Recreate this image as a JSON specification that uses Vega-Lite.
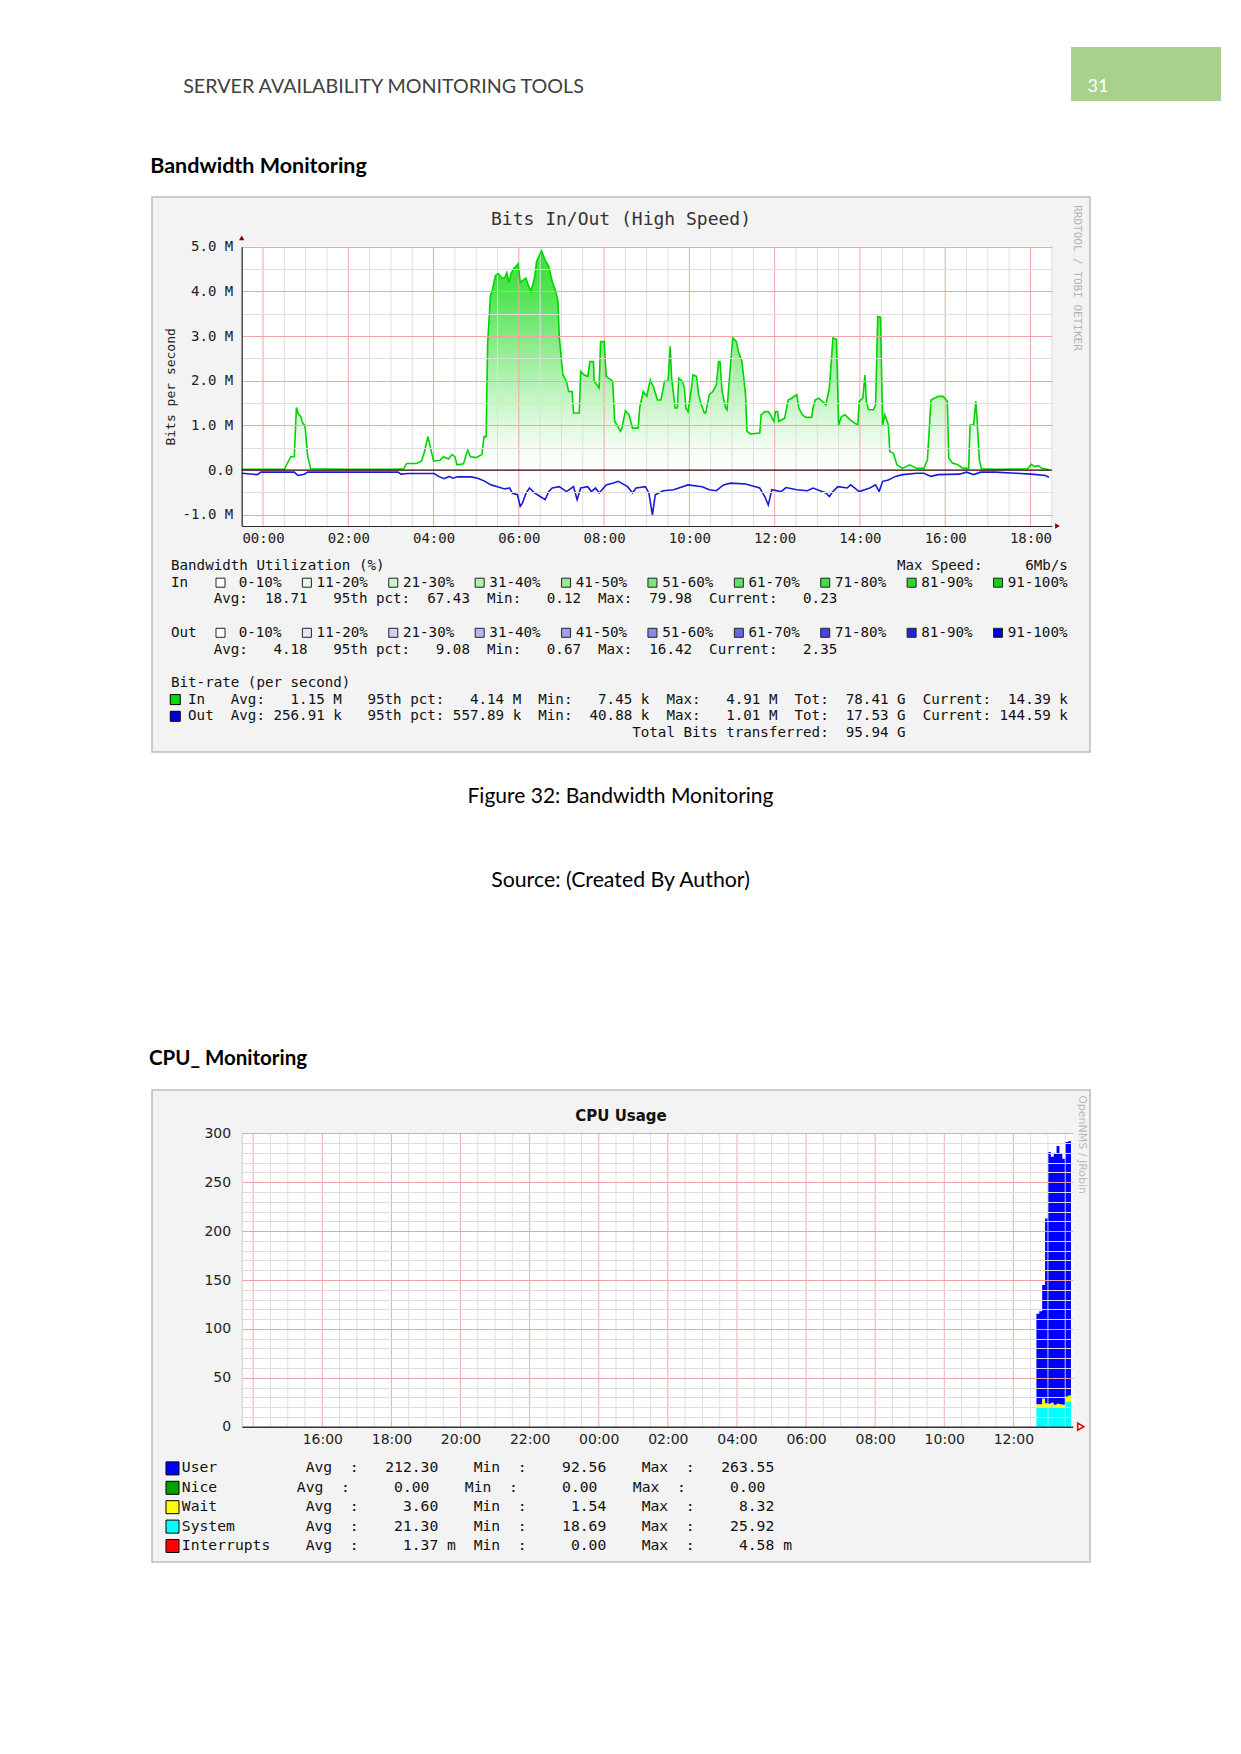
{
"$schema": "https://vega.github.io/schema/vega-lite/v6.json",
"background": "white",
"padding": 0,
"spacing": 0,
"config": {"view": {"stroke": null}, "concat": {"spacing": 0}},
"datasets": {
"bw_in": [
{"hour":-0.5,"in_mbps":0.02},{"hour":0,"in_mbps":0.02},{"hour":0.5,"in_mbps":0.02},{"hour":0.65,"in_mbps":0.3},{"hour":0.733,"in_mbps":0.3},{"hour":0.783,"in_mbps":1.4},{"hour":0.833,"in_mbps":1.25},{"hour":0.883,"in_mbps":1.2},{"hour":0.933,"in_mbps":1.05},{"hour":0.983,"in_mbps":1.0},{"hour":1.05,"in_mbps":0.3},{"hour":1.117,"in_mbps":0.03},{"hour":2,"in_mbps":0.02},{"hour":3,"in_mbps":0.02},{"hour":3.3,"in_mbps":0.03},{"hour":3.367,"in_mbps":0.15},{"hour":3.6,"in_mbps":0.15},{"hour":3.717,"in_mbps":0.2},{"hour":3.783,"in_mbps":0.4},{"hour":3.867,"in_mbps":0.75},{"hour":3.917,"in_mbps":0.55},{"hour":4,"in_mbps":0.2},{"hour":4.15,"in_mbps":0.22},{"hour":4.233,"in_mbps":0.3},{"hour":4.35,"in_mbps":0.25},{"hour":4.433,"in_mbps":0.35},{"hour":4.5,"in_mbps":0.3},{"hour":4.55,"in_mbps":0.12},{"hour":4.7,"in_mbps":0.14},{"hour":4.8,"in_mbps":0.45},{"hour":4.867,"in_mbps":0.3},{"hour":5,"in_mbps":0.28},{"hour":5.133,"in_mbps":0.35},{"hour":5.183,"in_mbps":0.75},{"hour":5.233,"in_mbps":0.75},{"hour":5.267,"in_mbps":2.8},{"hour":5.333,"in_mbps":3.9},{"hour":5.383,"in_mbps":4.05},{"hour":5.45,"in_mbps":4.35},{"hour":5.517,"in_mbps":4.4},{"hour":5.6,"in_mbps":4.3},{"hour":5.667,"in_mbps":4.3},{"hour":5.717,"in_mbps":4.42},{"hour":5.767,"in_mbps":4.2},{"hour":5.817,"in_mbps":4.4},{"hour":5.883,"in_mbps":4.52},{"hour":5.95,"in_mbps":4.58},{"hour":5.983,"in_mbps":4.62},{"hour":6.033,"in_mbps":4.2},{"hour":6.1,"in_mbps":4.25},{"hour":6.167,"in_mbps":4.3},{"hour":6.217,"in_mbps":4.15},{"hour":6.283,"in_mbps":4.0},{"hour":6.367,"in_mbps":4.3},{"hour":6.417,"in_mbps":4.67},{"hour":6.533,"in_mbps":4.91},{"hour":6.617,"in_mbps":4.7},{"hour":6.7,"in_mbps":4.56},{"hour":6.783,"in_mbps":4.22},{"hour":6.867,"in_mbps":4.0},{"hour":6.917,"in_mbps":3.78},{"hour":6.95,"in_mbps":2.96},{"hour":7.033,"in_mbps":2.13},{"hour":7.117,"in_mbps":1.99},{"hour":7.167,"in_mbps":1.76},{"hour":7.25,"in_mbps":1.76},{"hour":7.283,"in_mbps":1.28},{"hour":7.417,"in_mbps":1.28},{"hour":7.45,"in_mbps":2.21},{"hour":7.533,"in_mbps":2.13},{"hour":7.617,"in_mbps":2.1},{"hour":7.667,"in_mbps":2.43},{"hour":7.75,"in_mbps":2.43},{"hour":7.767,"in_mbps":1.99},{"hour":7.883,"in_mbps":1.84},{"hour":7.917,"in_mbps":2.88},{"hour":8,"in_mbps":2.88},{"hour":8.05,"in_mbps":2.1},{"hour":8.2,"in_mbps":1.99},{"hour":8.25,"in_mbps":1.09},{"hour":8.383,"in_mbps":0.87},{"hour":8.417,"in_mbps":0.94},{"hour":8.5,"in_mbps":1.33},{"hour":8.583,"in_mbps":1.24},{"hour":8.667,"in_mbps":0.94},{"hour":8.8,"in_mbps":0.94},{"hour":8.833,"in_mbps":1.39},{"hour":8.917,"in_mbps":1.76},{"hour":9,"in_mbps":1.65},{"hour":9.083,"in_mbps":2.02},{"hour":9.167,"in_mbps":1.84},{"hour":9.25,"in_mbps":1.57},{"hour":9.333,"in_mbps":1.57},{"hour":9.417,"in_mbps":1.99},{"hour":9.5,"in_mbps":1.99},{"hour":9.55,"in_mbps":2.77},{"hour":9.583,"in_mbps":2.06},{"hour":9.667,"in_mbps":1.39},{"hour":9.717,"in_mbps":1.39},{"hour":9.75,"in_mbps":2.06},{"hour":9.833,"in_mbps":1.99},{"hour":9.883,"in_mbps":1.84},{"hour":9.917,"in_mbps":1.39},{"hour":9.967,"in_mbps":1.31},{"hour":10.05,"in_mbps":1.84},{"hour":10.083,"in_mbps":2.13},{"hour":10.167,"in_mbps":2.1},{"hour":10.217,"in_mbps":1.69},{"hour":10.283,"in_mbps":1.46},{"hour":10.35,"in_mbps":1.28},{"hour":10.383,"in_mbps":1.28},{"hour":10.467,"in_mbps":1.69},{"hour":10.55,"in_mbps":1.76},{"hour":10.633,"in_mbps":1.91},{"hour":10.683,"in_mbps":2.43},{"hour":10.717,"in_mbps":2.43},{"hour":10.767,"in_mbps":1.76},{"hour":10.85,"in_mbps":1.39},{"hour":10.883,"in_mbps":1.35},{"hour":10.933,"in_mbps":1.99},{"hour":11.017,"in_mbps":2.96},{"hour":11.1,"in_mbps":2.88},{"hour":11.15,"in_mbps":2.66},{"hour":11.233,"in_mbps":2.43},{"hour":11.317,"in_mbps":1.69},{"hour":11.35,"in_mbps":0.87},{"hour":11.433,"in_mbps":0.81},{"hour":11.65,"in_mbps":0.83},{"hour":11.683,"in_mbps":1.24},{"hour":11.767,"in_mbps":1.31},{"hour":11.85,"in_mbps":1.31},{"hour":11.9,"in_mbps":1.24},{"hour":11.983,"in_mbps":1.09},{"hour":12.017,"in_mbps":1.31},{"hour":12.067,"in_mbps":1.31},{"hour":12.1,"in_mbps":1.09},{"hour":12.233,"in_mbps":1.16},{"hour":12.317,"in_mbps":1.57},{"hour":12.4,"in_mbps":1.61},{"hour":12.517,"in_mbps":1.69},{"hour":12.567,"in_mbps":1.39},{"hour":12.65,"in_mbps":1.24},{"hour":12.733,"in_mbps":1.18},{"hour":12.867,"in_mbps":1.18},{"hour":12.9,"in_mbps":1.39},{"hour":12.95,"in_mbps":1.57},{"hour":13.033,"in_mbps":1.61},{"hour":13.117,"in_mbps":1.54},{"hour":13.2,"in_mbps":1.46},{"hour":13.283,"in_mbps":1.84},{"hour":13.367,"in_mbps":2.96},{"hour":13.45,"in_mbps":2.93},{"hour":13.5,"in_mbps":1.01},{"hour":13.567,"in_mbps":1.2},{"hour":13.65,"in_mbps":1.24},{"hour":13.733,"in_mbps":1.16},{"hour":13.817,"in_mbps":1.09},{"hour":13.95,"in_mbps":1.01},{"hour":13.983,"in_mbps":1.54},{"hour":14.067,"in_mbps":1.61},{"hour":14.117,"in_mbps":2.13},{"hour":14.15,"in_mbps":1.54},{"hour":14.2,"in_mbps":1.35},{"hour":14.317,"in_mbps":1.35},{"hour":14.367,"in_mbps":1.46},{"hour":14.417,"in_mbps":3.44},{"hour":14.483,"in_mbps":3.42},{"hour":14.533,"in_mbps":1.01},{"hour":14.583,"in_mbps":1.24},{"hour":14.667,"in_mbps":1.01},{"hour":14.7,"in_mbps":0.42},{"hour":14.783,"in_mbps":0.38},{"hour":14.867,"in_mbps":0.12},{"hour":15,"in_mbps":0.04},{"hour":15.167,"in_mbps":0.12},{"hour":15.333,"in_mbps":0.04},{"hour":15.5,"in_mbps":0.04},{"hour":15.583,"in_mbps":0.23},{"hour":15.667,"in_mbps":1.57},{"hour":15.833,"in_mbps":1.65},{"hour":15.95,"in_mbps":1.65},{"hour":16.05,"in_mbps":1.54},{"hour":16.083,"in_mbps":0.27},{"hour":16.167,"in_mbps":0.16},{"hour":16.3,"in_mbps":0.12},{"hour":16.417,"in_mbps":0.04},{"hour":16.55,"in_mbps":0.04},{"hour":16.583,"in_mbps":1.01},{"hour":16.667,"in_mbps":1.01},{"hour":16.717,"in_mbps":1.54},{"hour":16.75,"in_mbps":1.09},{"hour":16.8,"in_mbps":0.23},{"hour":16.85,"in_mbps":0.03},{"hour":17.167,"in_mbps":0.02},{"hour":17.933,"in_mbps":0.03},{"hour":18.017,"in_mbps":0.13},{"hour":18.1,"in_mbps":0.08},{"hour":18.183,"in_mbps":0.1},{"hour":18.267,"in_mbps":0.04},{"hour":18.433,"in_mbps":0.01}
],
"bw_out": [
{"hour":-0.5,"out_mbps":-0.07},{"hour":-0.133,"out_mbps":-0.1},{"hour":-0.05,"out_mbps":-0.045},{"hour":0.733,"out_mbps":-0.045},{"hour":0.817,"out_mbps":-0.12},{"hour":0.967,"out_mbps":-0.09},{"hour":1.05,"out_mbps":-0.045},{"hour":3.167,"out_mbps":-0.045},{"hour":3.233,"out_mbps":-0.09},{"hour":3.4,"out_mbps":-0.075},{"hour":4.017,"out_mbps":-0.075},{"hour":4.117,"out_mbps":-0.14},{"hour":4.25,"out_mbps":-0.19},{"hour":4.367,"out_mbps":-0.14},{"hour":4.45,"out_mbps":-0.18},{"hour":4.567,"out_mbps":-0.15},{"hour":4.883,"out_mbps":-0.15},{"hour":5.033,"out_mbps":-0.18},{"hour":5.183,"out_mbps":-0.24},{"hour":5.35,"out_mbps":-0.33},{"hour":5.5,"out_mbps":-0.37},{"hour":5.667,"out_mbps":-0.42},{"hour":5.783,"out_mbps":-0.4},{"hour":5.85,"out_mbps":-0.52},{"hour":5.967,"out_mbps":-0.55},{"hour":6.033,"out_mbps":-0.81},{"hour":6.083,"out_mbps":-0.74},{"hour":6.167,"out_mbps":-0.52},{"hour":6.25,"out_mbps":-0.4},{"hour":6.367,"out_mbps":-0.51},{"hour":6.5,"out_mbps":-0.59},{"hour":6.617,"out_mbps":-0.66},{"hour":6.7,"out_mbps":-0.48},{"hour":6.783,"out_mbps":-0.4},{"hour":6.95,"out_mbps":-0.37},{"hour":7.117,"out_mbps":-0.48},{"hour":7.283,"out_mbps":-0.37},{"hour":7.367,"out_mbps":-0.66},{"hour":7.45,"out_mbps":-0.4},{"hour":7.617,"out_mbps":-0.37},{"hour":7.7,"out_mbps":-0.48},{"hour":7.8,"out_mbps":-0.4},{"hour":7.883,"out_mbps":-0.51},{"hour":8.05,"out_mbps":-0.33},{"hour":8.217,"out_mbps":-0.29},{"hour":8.333,"out_mbps":-0.25},{"hour":8.55,"out_mbps":-0.37},{"hour":8.667,"out_mbps":-0.51},{"hour":8.75,"out_mbps":-0.4},{"hour":8.967,"out_mbps":-0.37},{"hour":9.05,"out_mbps":-0.51},{"hour":9.133,"out_mbps":-1.0},{"hour":9.2,"out_mbps":-0.55},{"hour":9.383,"out_mbps":-0.46},{"hour":9.633,"out_mbps":-0.44},{"hour":9.967,"out_mbps":-0.33},{"hour":10.3,"out_mbps":-0.37},{"hour":10.467,"out_mbps":-0.44},{"hour":10.633,"out_mbps":-0.46},{"hour":10.8,"out_mbps":-0.33},{"hour":10.967,"out_mbps":-0.29},{"hour":11.317,"out_mbps":-0.31},{"hour":11.65,"out_mbps":-0.4},{"hour":11.767,"out_mbps":-0.59},{"hour":11.85,"out_mbps":-0.78},{"hour":11.933,"out_mbps":-0.44},{"hour":12.15,"out_mbps":-0.48},{"hour":12.267,"out_mbps":-0.39},{"hour":12.517,"out_mbps":-0.44},{"hour":12.767,"out_mbps":-0.46},{"hour":12.9,"out_mbps":-0.4},{"hour":13.2,"out_mbps":-0.51},{"hour":13.283,"out_mbps":-0.59},{"hour":13.367,"out_mbps":-0.48},{"hour":13.483,"out_mbps":-0.37},{"hour":13.7,"out_mbps":-0.4},{"hour":13.783,"out_mbps":-0.33},{"hour":13.983,"out_mbps":-0.48},{"hour":14.233,"out_mbps":-0.4},{"hour":14.367,"out_mbps":-0.33},{"hour":14.45,"out_mbps":-0.48},{"hour":14.533,"out_mbps":-0.25},{"hour":14.667,"out_mbps":-0.22},{"hour":14.833,"out_mbps":-0.14},{"hour":15,"out_mbps":-0.1},{"hour":15.333,"out_mbps":-0.07},{"hour":15.5,"out_mbps":-0.07},{"hour":15.667,"out_mbps":-0.14},{"hour":15.833,"out_mbps":-0.1},{"hour":16.333,"out_mbps":-0.09},{"hour":16.5,"out_mbps":-0.045},{"hour":16.667,"out_mbps":-0.1},{"hour":16.833,"out_mbps":-0.045},{"hour":17.167,"out_mbps":-0.045},{"hour":17.667,"out_mbps":-0.07},{"hour":18.017,"out_mbps":-0.09},{"hour":18.35,"out_mbps":-0.12},{"hour":18.433,"out_mbps":-0.16}
],
"c1_vgrid": [
{"hour":-0.5},{"hour":0},{"hour":0.5},{"hour":1},{"hour":1.5},{"hour":2},{"hour":2.5},{"hour":3},{"hour":3.5},{"hour":4},{"hour":4.5},{"hour":5},{"hour":5.5},{"hour":6},{"hour":6.5},{"hour":7},{"hour":7.5},{"hour":8},{"hour":8.5},{"hour":9},{"hour":9.5},{"hour":10},{"hour":10.5},{"hour":11},{"hour":11.5},{"hour":12},{"hour":12.5},{"hour":13},{"hour":13.5},{"hour":14},{"hour":14.5},{"hour":15},{"hour":15.5},{"hour":16},{"hour":16.5},{"hour":17},{"hour":17.5},{"hour":18},{"hour":18.5}
],
"c2_vgrid": [
{"hour":14},{"hour":14.5},{"hour":15},{"hour":15.5},{"hour":16},{"hour":16.5},{"hour":17},{"hour":17.5},{"hour":18},{"hour":18.5},{"hour":19},{"hour":19.5},{"hour":20},{"hour":20.5},{"hour":21},{"hour":21.5},{"hour":22},{"hour":22.5},{"hour":23},{"hour":23.5},{"hour":24},{"hour":24.5},{"hour":25},{"hour":25.5},{"hour":26},{"hour":26.5},{"hour":27},{"hour":27.5},{"hour":28},{"hour":28.5},{"hour":29},{"hour":29.5},{"hour":30},{"hour":30.5},{"hour":31},{"hour":31.5},{"hour":32},{"hour":32.5},{"hour":33},{"hour":33.5},{"hour":34},{"hour":34.5},{"hour":35},{"hour":35.5},{"hour":36},{"hour":36.5},{"hour":37},{"hour":37.5}
],
"bw_legend": [
{"line":"util","text":"Bandwidth\u00a0Utilization\u00a0(%)\u00a0\u00a0\u00a0\u00a0\u00a0\u00a0\u00a0\u00a0\u00a0\u00a0\u00a0\u00a0\u00a0\u00a0\u00a0\u00a0\u00a0\u00a0\u00a0\u00a0\u00a0\u00a0\u00a0\u00a0\u00a0\u00a0\u00a0\u00a0\u00a0\u00a0\u00a0\u00a0\u00a0\u00a0\u00a0\u00a0\u00a0\u00a0\u00a0\u00a0\u00a0\u00a0\u00a0\u00a0\u00a0\u00a0\u00a0\u00a0\u00a0\u00a0\u00a0\u00a0\u00a0\u00a0\u00a0\u00a0\u00a0\u00a0\u00a0\u00a0Max\u00a0Speed:\u00a0\u00a0\u00a0\u00a0\u00a06Mb/s"},
{"line":"in_bands","text":"In"},
{"line":"in_stats","text":"\u200b\u00a0\u00a0\u00a0\u00a0\u00a0Avg:\u00a0\u00a018.71\u00a0\u00a0\u00a095th\u00a0pct:\u00a0\u00a067.43\u00a0\u00a0Min:\u00a0\u00a0\u00a00.12\u00a0\u00a0Max:\u00a0\u00a079.98\u00a0\u00a0Current:\u00a0\u00a0\u00a00.23"},
{"line":"out_bands","text":"Out"},
{"line":"out_stats","text":"\u200b\u00a0\u00a0\u00a0\u00a0\u00a0Avg:\u00a0\u00a0\u00a04.18\u00a0\u00a0\u00a095th\u00a0pct:\u00a0\u00a0\u00a09.08\u00a0\u00a0Min:\u00a0\u00a0\u00a00.67\u00a0\u00a0Max:\u00a0\u00a016.42\u00a0\u00a0Current:\u00a0\u00a0\u00a02.35"},
{"line":"rate","text":"Bit-rate\u00a0(per\u00a0second)"},
{"line":"rate_in","text":"\u200b\u00a0\u00a0In\u00a0\u00a0\u00a0Avg:\u00a0\u00a0\u00a01.15\u00a0M\u00a0\u00a0\u00a095th\u00a0pct:\u00a0\u00a0\u00a04.14\u00a0M\u00a0\u00a0Min:\u00a0\u00a0\u00a07.45\u00a0k\u00a0\u00a0Max:\u00a0\u00a0\u00a04.91\u00a0M\u00a0\u00a0Tot:\u00a0\u00a078.41\u00a0G\u00a0\u00a0Current:\u00a0\u00a014.39\u00a0k"},
{"line":"rate_out","text":"\u200b\u00a0\u00a0Out\u00a0\u00a0Avg:\u00a0256.91\u00a0k\u00a0\u00a0\u00a095th\u00a0pct:\u00a0557.89\u00a0k\u00a0\u00a0Min:\u00a0\u00a040.88\u00a0k\u00a0\u00a0Max:\u00a0\u00a0\u00a01.01\u00a0M\u00a0\u00a0Tot:\u00a0\u00a017.53\u00a0G\u00a0\u00a0Current:\u00a0144.59\u00a0k"},
{"line":"total","text":"\u200b\u00a0\u00a0\u00a0\u00a0\u00a0\u00a0\u00a0\u00a0\u00a0\u00a0\u00a0\u00a0\u00a0\u00a0\u00a0\u00a0\u00a0\u00a0\u00a0\u00a0\u00a0\u00a0\u00a0\u00a0\u00a0\u00a0\u00a0\u00a0\u00a0\u00a0\u00a0\u00a0\u00a0\u00a0\u00a0\u00a0\u00a0\u00a0\u00a0\u00a0\u00a0\u00a0\u00a0\u00a0\u00a0\u00a0\u00a0\u00a0\u00a0\u00a0\u00a0\u00a0\u00a0\u00a0Total\u00a0Bits\u00a0transferred:\u00a0\u00a095.94\u00a0G"}
],
"rate_keys": [{"line":"rate_in"},{"line":"rate_out"}],
"bands": [
{"line":"in_bands","band":"\u200b\u00a00-10%"},{"line":"in_bands","band":"11-20%"},{"line":"in_bands","band":"21-30%"},{"line":"in_bands","band":"31-40%"},{"line":"in_bands","band":"41-50%"},{"line":"in_bands","band":"51-60%"},{"line":"in_bands","band":"61-70%"},{"line":"in_bands","band":"71-80%"},{"line":"in_bands","band":"81-90%"},{"line":"in_bands","band":"91-100%"},
{"line":"out_bands","band":"\u200b\u00a00-10%"},{"line":"out_bands","band":"11-20%"},{"line":"out_bands","band":"21-30%"},{"line":"out_bands","band":"31-40%"},{"line":"out_bands","band":"41-50%"},{"line":"out_bands","band":"51-60%"},{"line":"out_bands","band":"61-70%"},{"line":"out_bands","band":"71-80%"},{"line":"out_bands","band":"81-90%"},{"line":"out_bands","band":"91-100%"}
],
"cpu": [
{"hour":36.667,"metric":"System","ds":1,"value":19.5},{"hour":36.667,"metric":"Wait","ds":2,"value":3.5},{"hour":36.667,"metric":"User","ds":3,"value":92.6},
{"hour":36.75,"metric":"System","ds":1,"value":20},{"hour":36.75,"metric":"Wait","ds":2,"value":3},{"hour":36.75,"metric":"User","ds":3,"value":95},
{"hour":36.833,"metric":"System","ds":1,"value":20.5},{"hour":36.833,"metric":"Wait","ds":2,"value":8.3},{"hour":36.833,"metric":"User","ds":3,"value":116},
{"hour":36.917,"metric":"System","ds":1,"value":20},{"hour":36.917,"metric":"Wait","ds":2,"value":4},{"hour":36.917,"metric":"User","ds":3,"value":189},
{"hour":37,"metric":"System","ds":1,"value":20.5},{"hour":37,"metric":"Wait","ds":2,"value":3},{"hour":37,"metric":"User","ds":3,"value":257.5},
{"hour":37.083,"metric":"System","ds":1,"value":21},{"hour":37.083,"metric":"Wait","ds":2,"value":3.5},{"hour":37.083,"metric":"User","ds":3,"value":251.5},
{"hour":37.167,"metric":"System","ds":1,"value":20},{"hour":37.167,"metric":"Wait","ds":2,"value":2.5},{"hour":37.167,"metric":"User","ds":3,"value":256.5},
{"hour":37.25,"metric":"System","ds":1,"value":20.5},{"hour":37.25,"metric":"Wait","ds":2,"value":3},{"hour":37.25,"metric":"User","ds":3,"value":263.5},
{"hour":37.333,"metric":"System","ds":1,"value":19.5},{"hour":37.333,"metric":"Wait","ds":2,"value":3.5},{"hour":37.333,"metric":"User","ds":3,"value":256},
{"hour":37.417,"metric":"System","ds":1,"value":20},{"hour":37.417,"metric":"Wait","ds":2,"value":2.5},{"hour":37.417,"metric":"User","ds":3,"value":251.5},
{"hour":37.5,"metric":"System","ds":1,"value":25.5},{"hour":37.5,"metric":"Wait","ds":2,"value":5.5},{"hour":37.5,"metric":"User","ds":3,"value":260},
{"hour":37.583,"metric":"System","ds":1,"value":25.9},{"hour":37.583,"metric":"Wait","ds":2,"value":6},{"hour":37.583,"metric":"User","ds":3,"value":260},
{"hour":37.667,"metric":"System","ds":1,"value":25.9},{"hour":37.667,"metric":"Wait","ds":2,"value":6},{"hour":37.667,"metric":"User","ds":3,"value":260}
],
"cpu_legend": [
{"metric":"User","text":"User\u00a0\u00a0\u00a0\u00a0\u00a0\u00a0\u00a0\u00a0\u00a0\u00a0Avg\u00a0\u00a0:\u00a0\u00a0\u00a0212.30\u00a0\u00a0\u00a0\u00a0Min\u00a0\u00a0:\u00a0\u00a0\u00a0\u00a092.56\u00a0\u00a0\u00a0\u00a0Max\u00a0\u00a0:\u00a0\u00a0\u00a0263.55"},
{"metric":"Nice","text":"Nice\u00a0\u00a0\u00a0\u00a0\u00a0\u00a0\u00a0\u00a0\u00a0Avg\u00a0\u00a0:\u00a0\u00a0\u00a0\u00a0\u00a00.00\u00a0\u00a0\u00a0\u00a0Min\u00a0\u00a0:\u00a0\u00a0\u00a0\u00a0\u00a00.00\u00a0\u00a0\u00a0\u00a0Max\u00a0\u00a0:\u00a0\u00a0\u00a0\u00a0\u00a00.00"},
{"metric":"Wait","text":"Wait\u00a0\u00a0\u00a0\u00a0\u00a0\u00a0\u00a0\u00a0\u00a0\u00a0Avg\u00a0\u00a0:\u00a0\u00a0\u00a0\u00a0\u00a03.60\u00a0\u00a0\u00a0\u00a0Min\u00a0\u00a0:\u00a0\u00a0\u00a0\u00a0\u00a01.54\u00a0\u00a0\u00a0\u00a0Max\u00a0\u00a0:\u00a0\u00a0\u00a0\u00a0\u00a08.32"},
{"metric":"System","text":"System\u00a0\u00a0\u00a0\u00a0\u00a0\u00a0\u00a0\u00a0Avg\u00a0\u00a0:\u00a0\u00a0\u00a0\u00a021.30\u00a0\u00a0\u00a0\u00a0Min\u00a0\u00a0:\u00a0\u00a0\u00a0\u00a018.69\u00a0\u00a0\u00a0\u00a0Max\u00a0\u00a0:\u00a0\u00a0\u00a0\u00a025.92"},
{"metric":"Interrupts","text":"Interrupts\u00a0\u00a0\u00a0\u00a0Avg\u00a0\u00a0:\u00a0\u00a0\u00a0\u00a0\u00a01.37\u00a0m\u00a0\u00a0Min\u00a0\u00a0:\u00a0\u00a0\u00a0\u00a0\u00a00.00\u00a0\u00a0\u00a0\u00a0Max\u00a0\u00a0:\u00a0\u00a0\u00a0\u00a0\u00a04.58\u00a0m"}
]
},
"vconcat": [
{"width":1241,"height":47,"data":{"values":[{"text":" "}]},"mark":"text","encoding":{"text":{"field":"text"}}},
{"hconcat":[
  {"width":1071,"height":26,"data":{"values":[{"text":" "}]},"mark":"text","encoding":{"text":{"field":"text"}}},
  {"width":150,"height":26,"view":{"fill":"#a9d18e"},"data":{"values":[{"text":" "}]},"mark":"text","encoding":{"text":{"field":"text"}}}
 ],"spacing":0},
{"hconcat":[
  {"width":767,"height":28,"data":{"values":[{"text":"SERVER AVAILABILITY MONITORING TOOLS"}]},"mark":{"type":"text","align":"center","baseline":"middle","font":"Lato","fontSize":19.7,"color":"#404040"},"encoding":{"text":{"field":"text"}}},
  {"width":304,"height":28,"data":{"values":[{"text":" "}]},"mark":"text","encoding":{"text":{"field":"text"}}},
  {"width":54,"height":28,"view":{"fill":"#a9d18e"},"data":{"values":[{"text":"31"}]},"mark":{"type":"text","align":"center","baseline":"middle","font":"Lato","fontSize":18,"color":"#ffffff"},"encoding":{"text":{"field":"text"}}},
  {"width":96,"height":28,"view":{"fill":"#a9d18e"},"data":{"values":[{"text":" "}]},"mark":"text","encoding":{"text":{"field":"text"}}}
 ],"spacing":0},
{"width":1241,"height":36.2,"data":{"values":[{"text":" "}]},"mark":"text","encoding":{"text":{"field":"text"}}},
{"width":517,"height":58.0,"data":{"values":[{"text":"Bandwidth Monitoring"}]},"mark":{"type":"text","align":"center","baseline":"middle","font":"Lato","fontSize":21.5,"fontWeight":"bold","color":"#000000"},"encoding":{"text":{"field":"text"}}},
{"hconcat":[
  {"width":151,"height":555,"data":{"values":[{"text":" "}]},"mark":"text","encoding":{"text":{"field":"text"}}},
  {"width":938,"height":555,
   "view":{"fill":"#f3f3f3","stroke":"#bdbdbd","strokeWidth":1.5},
   "title":{"text":"Bits In/Out (High Speed)","font":"DejaVu Sans Mono","fontSize":18,"fontWeight":"normal","color":"#333333","anchor":"middle","offset":-32},
   "resolve":{"scale":{"x":"independent","y":"independent"}},
   "layer":[
    {"layer":[
      {"data":{"values":[{"text":" "}]},"mark":{"type":"rect","color":"#ffffff"},
       "encoding":{"x":{"datum":-0.5,"type":"quantitative"},"x2":{"datum":18.5},"y":{"datum":-1.25,"type":"quantitative"},"y2":{"datum":5}}},
      {"data":{"name":"bw_in"},
       "mark":{"type":"area","opacity":0.9,"color":{"gradient":"linear","x1":0,"x2":0,"y1":0,"y2":1,"stops":[{"offset":0,"color":"#1edc1e"},{"offset":0.2,"color":"#40e240"},{"offset":0.4,"color":"#76e976"},{"offset":0.6,"color":"#acf1ac"},{"offset":0.8,"color":"#dcf8dc"},{"offset":0.9,"color":"#f2fcf2"},{"offset":1,"color":"#ffffff"}]}},
       "encoding":{
        "x":{"field":"hour","type":"quantitative",
             "scale":{"domain":[-0.5,18.5],"range":[89.7,899.8],"nice":false,"zero":false},
             "axis":{"orient":"bottom","offset":-226,"zindex":1,"tickCount":1000,
                     "values":[-0.5,0,0.5,1,1.5,2,2.5,3,3.5,4,4.5,5,5.5,6,6.5,7,7.5,8,8.5,9,9.5,10,10.5,11,11.5,12,12.5,13,13.5,14,14.5,15,15.5,16,16.5,17,17.5,18,18.5],
                     "labelExpr":"datum.value >= 0 && datum.value % 2 == 0 ? (datum.value < 10 ? '0' : '') + datum.value + ':00' : ''",
                     "labelOverlap":false,"labelFlush":false,"labelFont":"DejaVu Sans Mono","labelFontSize":14,"labelColor":"#222222","labelPadding":5,
                     "ticks":false,"domain":true,"domainColor":"#2a2a2a","domainWidth":1.2,"grid":false,
                     "title":null}},
        "y":{"field":"in_mbps","type":"quantitative",
             "scale":{"domain":[-1.25,5],"range":[329,49.7],"nice":false,"zero":false},
             "axis":{"orient":"left","offset":-89.7,"zindex":1,"tickCount":1000,
                     "values":[-1,-0.5,0,0.5,1,1.5,2,2.5,3,3.5,4,4.5,5],
                     "labelExpr":"datum.value % 1 != 0 ? '' : (datum.value == 0 ? '0.0' : (datum.value < 0 ? '-' + format(-datum.value, '.1f') : format(datum.value, '.1f')) + ' M')",
                     "labelOverlap":false,"labelFont":"DejaVu Sans Mono","labelFontSize":14,"labelColor":"#222222","labelPadding":9,
                     "ticks":false,"domain":true,"domainColor":"#2a2a2a","domainWidth":1.2,"grid":true,
                     "gridColor":{"condition":{"test":"datum.value % 1 == 0","value":"#f0a4a4"},"value":"#dedede"},
                     "gridOpacity":{"condition":{"test":"datum.value == 0","value":0},"value":1},
                     "title":"Bits per second","titleFont":"DejaVu Sans Mono","titleFontSize":13,"titleFontWeight":"normal","titleColor":"#222222","titlePadding":5}}}},
      {"data":{"name":"c1_vgrid"},"mark":{"type":"rule","strokeWidth":1},
       "encoding":{"x":{"field":"hour","type":"quantitative"},"y":{"datum":-1.25,"type":"quantitative"},"y2":{"datum":5},
                   "color":{"condition":{"test":"datum.hour % 2 == 0","value":"#f0a4a4"},"value":"#dedede"}}},
      {"data":{"name":"bw_in"},"mark":{"type":"line","color":"#00d400","strokeWidth":1.6},
       "encoding":{"x":{"field":"hour","type":"quantitative"},"y":{"field":"in_mbps","type":"quantitative"}}},
      {"data":{"name":"bw_out"},"mark":{"type":"line","color":"#1a1ad6","strokeWidth":1.6},
       "encoding":{"x":{"field":"hour","type":"quantitative"},"y":{"field":"out_mbps","type":"quantitative"}}},
      {"data":{"values":[{"text":" "}]},"mark":{"type":"rule","color":"#330000","strokeWidth":1.2},
       "encoding":{"x":{"datum":-0.5,"type":"quantitative"},"x2":{"datum":18.5},"y":{"datum":0,"type":"quantitative"}}},
      {"data":{"values":[{"text":" "}]},"mark":{"type":"point","shape":"triangle-up","filled":true,"color":"#8b0000","size":30,"opacity":1},
       "encoding":{"x":{"datum":-0.5,"type":"quantitative"},"y":{"datum":5.2,"type":"quantitative"}}},
      {"data":{"values":[{"text":" "}]},"mark":{"type":"point","shape":"triangle-right","filled":true,"color":"#8b0000","size":30,"opacity":1},
       "encoding":{"x":{"datum":18.633,"type":"quantitative"},"y":{"datum":-1.25,"type":"quantitative"}}},
      {"data":{"values":[{"label":"RRDTOOL / TOBI OETIKER"}]},"mark":{"type":"text","angle":90,"align":"left","baseline":"middle","font":"DejaVu Sans Mono","fontSize":11,"color":"#b4b4b4"},
       "encoding":{"x":{"datum":19.09,"type":"quantitative"},"y":{"datum":5.93,"type":"quantitative"},"text":{"field":"label"}}}
    ]},
    {"resolve":{"scale":{"x":"independent","color":"independent"}},
     "layer":[
      {"data":{"name":"bw_legend"},"mark":{"type":"text","align":"left","baseline":"middle","font":"DejaVu Sans Mono","fontSize":14.2,"color":"#111111"},
       "encoding":{"x":{"datum":0,"type":"quantitative","scale":{"domain":[0,105],"range":[19,915.7]},"axis":null},
                   "y":{"field":"line","type":"nominal","scale":{"type":"point","domain":["util","in_bands","in_stats","gap1","out_bands","out_stats","gap2","rate","rate_in","rate_out","total"],"range":[369,536],"padding":0},"axis":null},
                   "text":{"field":"text"}}},
      {"data":{"name":"rate_keys"},"mark":{"type":"square","size":100,"opacity":1,"filled":true,"stroke":"#000000","strokeWidth":1},
       "encoding":{"x":{"datum":0.5,"type":"quantitative","scale":{"domain":[0,105],"range":[19,915.7]},"axis":null},
                   "y":{"field":"line","type":"nominal"},
                   "color":{"field":"line","type":"nominal","scale":{"domain":["rate_in","rate_out"],"range":["#00dd00","#0000dd"]},"legend":null}}},
      {"data":{"name":"bands"},"transform":[{"filter":"datum.line == 'in_bands'"}],"mark":{"type":"square","size":81,"opacity":1,"filled":true,"stroke":"#222222","strokeWidth":1},
       "encoding":{"x":{"field":"band","type":"nominal","scale":{"type":"point","domain":["\u200b\u00a00-10%","11-20%","21-30%","31-40%","41-50%","51-60%","61-70%","71-80%","81-90%","91-100%"],"range":[68.5,846],"padding":0},"axis":null},
                   "y":{"field":"line","type":"nominal"},
                   "color":{"field":"band","type":"nominal","scale":{"domain":["\u200b\u00a00-10%","11-20%","21-30%","31-40%","41-50%","51-60%","61-70%","71-80%","81-90%","91-100%"],"range":["#ffffff","#e6f9e6","#ccf4cc","#b2efb2","#97ea97","#7de57d","#62e062","#48db48","#2dd62d","#12d112"]},"legend":null}}},
      {"data":{"name":"bands"},"transform":[{"filter":"datum.line == 'out_bands'"}],"mark":{"type":"square","size":81,"opacity":1,"filled":true,"stroke":"#222222","strokeWidth":1},
       "encoding":{"x":{"field":"band","type":"nominal","scale":{"type":"point","domain":["\u200b\u00a00-10%","11-20%","21-30%","31-40%","41-50%","51-60%","61-70%","71-80%","81-90%","91-100%"],"range":[68.5,846],"padding":0},"axis":null},
                   "y":{"field":"line","type":"nominal"},
                   "color":{"field":"band","type":"nominal","scale":{"domain":["\u200b\u00a00-10%","11-20%","21-30%","31-40%","41-50%","51-60%","61-70%","71-80%","81-90%","91-100%"],"range":["#ffffff","#e8e8fc","#d0d0f8","#b8b8f4","#a0a0f0","#8888ec","#6565ea","#4545e6","#2222e0","#0000d4"]},"legend":null}}},
      {"data":{"name":"bands"},"mark":{"type":"text","align":"left","baseline":"middle","font":"DejaVu Sans Mono","fontSize":14.2,"color":"#111111"},
       "encoding":{"x":{"field":"band","type":"nominal","scale":{"type":"point","domain":["\u200b\u00a00-10%","11-20%","21-30%","31-40%","41-50%","51-60%","61-70%","71-80%","81-90%","91-100%"],"range":[78.2,855.7],"padding":0},"axis":null},
                   "y":{"field":"line","type":"nominal"},
                   "text":{"field":"band"}}}
     ]}
   ]}
 ],"spacing":0},
{"width":1241,"height":88.8,"data":{"values":[{"text":"Figure 32: Bandwidth Monitoring"}]},"mark":{"type":"text","align":"center","baseline":"middle","font":"Lato","fontSize":21,"color":"#000000"},"encoding":{"text":{"field":"text"}}},
{"width":1241,"height":77,"data":{"values":[{"text":"Source: (Created By Author)"}]},"mark":{"type":"text","align":"center","baseline":"middle","font":"Lato","fontSize":21.3,"color":"#000000"},"encoding":{"text":{"field":"text"}}},
{"width":1241,"height":110.3,"data":{"values":[{"text":" "}]},"mark":"text","encoding":{"text":{"field":"text"}}},
{"width":456,"height":58.5,"data":{"values":[{"text":"CPU_ Monitoring"}]},"mark":{"type":"text","align":"center","baseline":"middle","font":"Lato","fontSize":20.5,"fontWeight":"bold","color":"#000000"},"encoding":{"text":{"field":"text"}}},
{"hconcat":[
  {"width":151,"height":472,"data":{"values":[{"text":" "}]},"mark":"text","encoding":{"text":{"field":"text"}}},
  {"width":938,"height":472,
   "view":{"fill":"#f3f3f3","stroke":"#bdbdbd","strokeWidth":1.5},
   "title":{"text":"CPU Usage","font":"DejaVu Sans","fontSize":15,"fontWeight":"bold","color":"#111111","anchor":"middle","offset":-34},
   "resolve":{"scale":{"x":"independent","y":"independent","color":"independent"}},
   "layer":[
    {"layer":[
      {"data":{"values":[{"text":" "}]},"mark":{"type":"rect","color":"#ffffff"},
       "encoding":{"x":{"datum":13.667,"type":"quantitative"},"x2":{"datum":37.717},"y":{"datum":0,"type":"quantitative"},"y2":{"datum":300}}},
      {"data":{"name":"cpu"},"mark":{"type":"area","interpolate":"step-after","opacity":1},
       "encoding":{
        "x":{"field":"hour","type":"quantitative",
             "scale":{"domain":[13.667,37.717],"range":[89.7,920.7],"nice":false,"zero":false},
             "axis":{"orient":"bottom","offset":-135.3,"zindex":1,"tickCount":1000,
                     "values":[14,14.5,15,15.5,16,16.5,17,17.5,18,18.5,19,19.5,20,20.5,21,21.5,22,22.5,23,23.5,24,24.5,25,25.5,26,26.5,27,27.5,28,28.5,29,29.5,30,30.5,31,31.5,32,32.5,33,33.5,34,34.5,35,35.5,36,36.5,37,37.5],
                     "labelExpr":"datum.value % 2 == 0 && datum.value >= 16 ? ((datum.value % 24) < 10 ? '0' : '') + (datum.value % 24) + ':00' : ''",
                     "labelOverlap":false,"labelFlush":false,"labelFont":"DejaVu Sans","labelFontSize":14,"labelColor":"#222222","labelPadding":6,
                     "ticks":false,"domain":true,"domainColor":"#333333","domainWidth":1.5,"grid":false,
                     "title":null}},
        "y":{"field":"value","type":"quantitative","stack":"zero",
             "scale":{"domain":[0,300],"range":[336.7,43.3],"nice":false,"zero":false},
             "axis":{"orient":"left","offset":-89.7,"zindex":1,"tickCount":1000,
                     "values":[0,10,20,30,40,50,60,70,80,90,100,110,120,130,140,150,160,170,180,190,200,210,220,230,240,250,260,270,280,290,300],
                     "labelExpr":"datum.value % 50 == 0 ? '' + datum.value : ''",
                     "labelOverlap":false,"labelFont":"DejaVu Sans","labelFontSize":14,"labelColor":"#222222","labelPadding":11,
                     "ticks":false,"domain":true,"domainColor":"#c8c8c8","grid":true,
                     "gridColor":{"condition":{"test":"datum.value % 50 == 0","value":"#eda4a4"},"value":"#dcdcdc"},
                     "gridOpacity":{"condition":{"test":"datum.value == 0","value":0},"value":1},
                     "title":null}},
        "color":{"field":"metric","type":"nominal","scale":{"domain":["System","Wait","User"],"range":["#00ffff","#ffff00","#0000ff"]},"legend":null},
        "order":{"field":"ds","type":"quantitative","sort":"ascending"}}},
      {"data":{"name":"c2_vgrid"},"mark":{"type":"rule","strokeWidth":1,"opacity":0.9},
       "encoding":{"x":{"field":"hour","type":"quantitative"},"y":{"datum":0,"type":"quantitative"},"y2":{"datum":300},
                   "color":{"condition":{"test":"datum.hour % 2 == 0","value":"#eda4a4"},"value":"#dcdcdc"}}},
      {"data":{"values":[{"text":" "}]},"mark":{"type":"point","shape":"triangle-right","filled":false,"stroke":"#e00000","strokeWidth":1.5,"size":50,"opacity":1},
       "encoding":{"x":{"datum":37.95,"type":"quantitative"},"y":{"datum":0,"type":"quantitative"}}},
      {"data":{"values":[{"label":"OpenNMS / JRobin"}]},"mark":{"type":"text","angle":90,"align":"left","baseline":"middle","font":"DejaVu Sans","fontSize":11,"color":"#bcbcbc"},
       "encoding":{"x":{"datum":37.98,"type":"quantitative"},"y":{"datum":339,"type":"quantitative"},"text":{"field":"label"}}}
    ]},
    {"data":{"name":"cpu_legend"},
     "layer":[
      {"mark":{"type":"text","align":"left","baseline":"middle","font":"DejaVu Sans Mono","fontSize":14.7,"color":"#111111"},
       "encoding":{"x":{"datum":2,"type":"quantitative","scale":{"domain":[0,72],"range":[14,647.6]},"axis":null},
                   "y":{"field":"metric","type":"nominal","scale":{"type":"point","domain":["User","Nice","Wait","System","Interrupts"],"range":[378.4,456],"padding":0},"axis":null},
                   "text":{"field":"text"}}},
      {"mark":{"type":"square","size":169,"opacity":1,"filled":true,"stroke":"#000000","strokeWidth":1},
       "encoding":{"x":{"datum":0.82,"type":"quantitative"},
                   "y":{"field":"metric","type":"nominal"},
                   "color":{"field":"metric","type":"nominal","scale":{"domain":["User","Nice","Wait","System","Interrupts"],"range":["#0000ff","#00a000","#ffff00","#00ffff","#ff0000"]},"legend":null}}}
     ]}
   ]}
 ],"spacing":0},
{"width":1241,"height":192,"data":{"values":[{"text":" "}]},"mark":"text","encoding":{"text":{"field":"text"}}}
]
}
